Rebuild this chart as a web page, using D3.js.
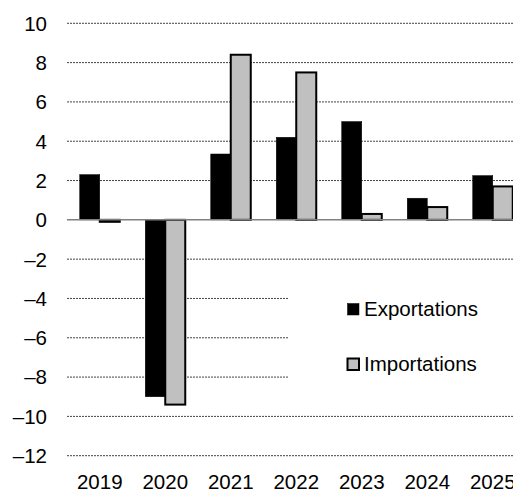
<!DOCTYPE html>
<html lang="fr">
<head>
  <meta charset="UTF-8">
  <title>Exportations et importations</title>
  <script src="https://d3js.org/d3.v7.min.js"></script>
  <style>
    body { margin: 0; background: #fff; font-family: "Liberation Sans", Arial, sans-serif; }
    svg { display: block; }
  </style>
</head>
<body>
  <div id="chart"></div>
  <script>
    // Données
    const years = ["2019", "2020", "2021", "2022", "2023", "2024", "2025"];
    const exportations = [2.3, -9.0, 3.35, 4.2, 5.0, 1.1, 2.25];
    const importations = [-0.1, -9.4, 8.4, 7.5, 0.3, 0.65, 1.7];
    const series = ["Exportations", "Importations"];
    const yTicks = [10, 8, 6, 4, 2, 0, -2, -4, -6, -8, -10, -12];

    const W = 513, H = 490;
    const left = 67, step = 65.5;
    const fontSize = "20.5px";

    const svg = d3.select("#chart").append("svg")
      .attr("width", W).attr("height", H);

    const x = d3.scaleBand()
      .domain(years)
      .range([left, left + step * years.length])
      .padding(0);

    const xs = d3.scaleBand()
      .domain(series)
      .range([12.75, 52.75])
      .padding(0);

    const y = d3.scaleLinear()
      .domain([-12, 10])
      .range([455.7, 23.3]);

    const colors = {Exportations: "#000000", Importations: "#c0c0c0"};

    // lignes de grille
    svg.append("g")
      .selectAll("line")
      .data(yTicks.filter(d => d !== 0))
      .enter().append("line")
      .attr("x1", left).attr("x2", W)
      .attr("y1", d => y(d)).attr("y2", d => y(d))
      .attr("stroke", "#444")
      .attr("stroke-width", 1)
      .attr("stroke-dasharray", "2,1");

    // fond blanc de la légende (coupe les lignes -4, -6, -8)
    svg.append("rect")
      .attr("x", 288).attr("y", y(-2.4))
      .attr("width", W - 288).attr("height", y(-9) - y(-2.4))
      .attr("fill", "#fff");

    // étiquettes de l'axe Y
    svg.append("g")
      .selectAll("text")
      .data(yTicks)
      .enter().append("text")
      .attr("x", 47)
      .attr("y", d => y(d))
      .attr("dy", "0.36em")
      .attr("text-anchor", "end")
      .style("font-size", fontSize)
      .attr("fill", "#000")
      .text(d => d < 0 ? "\u2013" + Math.abs(d) : d);

    // barres
    const groups = svg.append("g")
      .selectAll("g")
      .data(years.map((yr, i) => ({year: yr, values: [
        {key: "Exportations", value: exportations[i]},
        {key: "Importations", value: importations[i]}
      ]})))
      .enter().append("g")
      .attr("transform", d => `translate(${x(d.year)},0)`);

    groups.selectAll("rect")
      .data(d => d.values)
      .enter().append("rect")
      .attr("x", d => xs(d.key))
      .attr("y", d => y(Math.max(0, d.value)))
      .attr("width", xs.bandwidth())
      .attr("height", d => Math.abs(y(d.value) - y(0)))
      .attr("fill", d => colors[d.key])
      .attr("stroke", "#000")
      .attr("stroke-width", d => d.key === "Importations" ? 2 : 0.5);

    // ligne du zéro
    svg.append("line")
      .attr("x1", left).attr("x2", W)
      .attr("y1", y(0)).attr("y2", y(0))
      .attr("stroke", "#808080")
      .attr("stroke-width", 1.5);

    // étiquettes de l'axe X
    svg.append("g")
      .selectAll("text")
      .data(years)
      .enter().append("text")
      .attr("x", d => x(d) + x.bandwidth() / 2)
      .attr("y", 488.5)
      .attr("text-anchor", "middle")
      .style("font-size", fontSize)
      .attr("fill", "#000")
      .text(d => d);

    // légende
    const legend = svg.append("g");
    const legendY = [303, 358];
    series.forEach((s, i) => {
      legend.append("rect")
        .attr("x", 347.5).attr("y", legendY[i] + 0.5)
        .attr("width", 11.5).attr("height", 11.5)
        .attr("fill", colors[s])
        .attr("stroke", "#000")
        .attr("stroke-width", i === 1 ? 2 : 0.5);
      legend.append("text")
        .attr("x", 364)
        .attr("y", legendY[i] + 13)
        .style("font-size", fontSize)
        .attr("fill", "#000")
        .text(s);
    });
  </script>
</body>
</html>
